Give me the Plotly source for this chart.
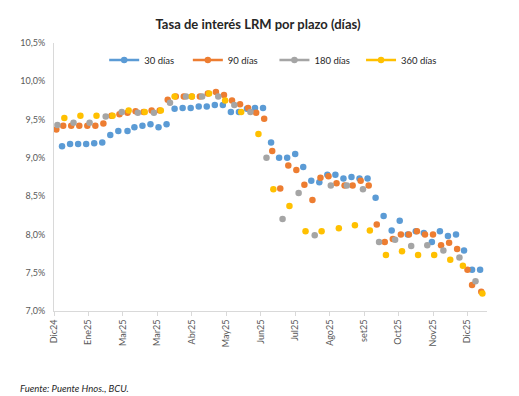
import plotly.graph_objects as go
import pandas as pd

# ---------------- data ----------------
title_text = "Tasa de interés LRM por plazo (días)"
source_text = "Fuente: Puente Hnos., BCU."
series_names = ["30 días", "90 días", "180 días", "360 días"]
series_colors = ["#5B9BD5", "#ED7D31", "#A5A5A5", "#FFC000"]

dates_30 = ["2025-01-07", "2025-01-14", "2025-01-21", "2025-01-28", "2025-02-04", "2025-02-11",
            "2025-02-18", "2025-02-25", "2025-03-05", "2025-03-11", "2025-03-18", "2025-03-25",
            "2025-04-01", "2025-04-08", "2025-04-15", "2025-04-22", "2025-04-29", "2025-05-06",
            "2025-05-13", "2025-05-20", "2025-05-27", "2025-06-03", "2025-06-10", "2025-06-17",
            "2025-06-24", "2025-07-01", "2025-07-08", "2025-07-15", "2025-07-22", "2025-07-29",
            "2025-08-05", "2025-08-12", "2025-08-19", "2025-08-26", "2025-09-02", "2025-09-09",
            "2025-09-16", "2025-09-23", "2025-09-30", "2025-10-07", "2025-10-14", "2025-10-21",
            "2025-10-28", "2025-11-04", "2025-11-11", "2025-11-18", "2025-11-25", "2025-12-02",
            "2025-12-09", "2025-12-16", "2025-12-23", "2025-12-30", "2026-01-06"]
rates_30 = [9.15, 9.18, 9.18, 9.18, 9.19, 9.20, 9.30, 9.35, 9.35, 9.40,
            9.42, 9.44, 9.40, 9.44, 9.64, 9.65, 9.65, 9.67, 9.67, 9.69,
            9.69, 9.60, 9.60, 9.64, 9.65, 9.65, 9.20, 9.00, 9.00, 9.05,
            8.88, 8.70, 8.68, 8.78, 8.78, 8.73, 8.75, 8.73, 8.73, 8.48,
            8.24, 8.05, 8.18, 8.00, 8.04, 8.02, 7.90, 8.04, 7.98, 8.00,
            7.79, 7.54, 7.54]

dates_90 = ["2025-01-02", "2025-01-08", "2025-01-15", "2025-01-22", "2025-01-29", "2025-02-05",
            "2025-02-12", "2025-02-19", "2025-02-26", "2025-03-05", "2025-03-12", "2025-03-19",
            "2025-03-26", "2025-04-02", "2025-04-09", "2025-04-16", "2025-04-23", "2025-04-30",
            "2025-05-07", "2025-05-14", "2025-05-21", "2025-05-28", "2025-06-04", "2025-06-11",
            "2025-06-18", "2025-06-25", "2025-07-02", "2025-07-09", "2025-07-16", "2025-07-23",
            "2025-07-30", "2025-08-06", "2025-08-13", "2025-08-20", "2025-08-27", "2025-09-03",
            "2025-09-10", "2025-09-17", "2025-09-24", "2025-10-01", "2025-10-08", "2025-10-15",
            "2025-10-22", "2025-10-29", "2025-11-05", "2025-11-12", "2025-11-19", "2025-11-26",
            "2025-12-03", "2025-12-10", "2025-12-17", "2025-12-26", "2025-12-30", "2026-01-07"]
rates_90 = [9.37, 9.42, 9.42, 9.42, 9.42, 9.42, 9.45, 9.55, 9.57, 9.59,
            9.61, 9.60, 9.62, 9.62, 9.76, 9.80, 9.80, 9.80, 9.80, 9.84,
            9.86, 9.82, 9.75, 9.70, 9.65, 9.59, 9.51, 9.09, 8.60, 8.90,
            8.84, 8.65, 8.45, 8.74, 8.76, 8.67, 8.64, 8.64, 8.70, 8.64,
            8.13, 7.90, 7.94, 8.00, 8.00, 8.04, 8.00, 8.00, 7.86, 7.89,
            7.81, 7.54, 7.34, 7.25]

dates_180 = ["2025-01-03", "2025-01-17", "2025-01-31", "2025-02-14", "2025-02-28", "2025-03-14",
             "2025-03-28", "2025-04-11", "2025-04-25", "2025-05-09", "2025-05-23", "2025-06-06",
             "2025-06-20", "2025-07-04", "2025-07-18", "2025-08-01", "2025-08-15", "2025-08-29",
             "2025-09-12", "2025-09-26", "2025-10-10", "2025-10-24", "2025-11-07", "2025-11-21",
             "2025-12-05", "2025-12-19", "2026-01-02"]
rates_180 = [9.43, 9.46, 9.46, 9.54, 9.60, 9.59, 9.59, 9.72, 9.80, 9.80,
             9.80, 9.69, 9.60, 9.00, 8.20, 8.54, 7.99, 8.64, 8.64, 8.59,
             7.90, 7.93, 7.85, 7.86, 7.79, 7.70, 7.39]

dates_360 = ["2025-01-09", "2025-01-23", "2025-02-06", "2025-02-20", "2025-03-06", "2025-03-20",
             "2025-04-03", "2025-04-15", "2025-04-30", "2025-05-15", "2025-05-29", "2025-06-12",
             "2025-06-27", "2025-07-10", "2025-07-24", "2025-08-07", "2025-08-21", "2025-09-05",
             "2025-09-19", "2025-10-02", "2025-10-16", "2025-10-30", "2025-11-13", "2025-11-27",
             "2025-12-11", "2025-12-22", "2026-01-08"]
rates_360 = [9.52, 9.55, 9.55, 9.55, 9.62, 9.60, 9.62, 9.80, 9.80, 9.84,
             9.75, 9.60, 9.31, 8.59, 8.37, 8.04, 8.04, 8.08, 8.12, 8.05,
             7.73, 7.78, 7.73, 7.73, 7.67, 7.59, 7.23]

tick_labels = ["Dic24", "Ene25", "Mar25", "Mar25", "Abr25", "May25", "Jun25",
               "Jul25", "Ago25", "set25", "Oct25", "Nov25", "Dic25"]

# ---------------- figure ----------------
FONT = "Lato, 'Open Sans', sans-serif"
all_dates = [dates_30, dates_90, dates_180, dates_360]
all_rates = [rates_30, rates_90, rates_180, rates_360]

W, H = 511, 388          # page adds an 8px body margin
PL, PT, PW, PH = 39, 35, 440, 267.7

fig = go.Figure()
for name, color, xs, ys in zip(series_names, series_colors, all_dates, all_rates):
    fig.add_trace(go.Scatter(
        x=xs, y=ys, mode="markers", name=name, showlegend=False,
        marker=dict(color=color, size=6.5, line=dict(width=0)),
        hovertemplate="%{x|%d/%m/%Y}: %{y:.2f}%<extra>" + name + "</extra>",
    ))

# legend entries (line + marker, as in the original legend), one legend box each
legend_ids = ["legend", "legend2", "legend3", "legend4"]
legend_left_fig = [90, 175, 263, 351]
legend_layout = {}
for name, color, lid, lx in zip(series_names, series_colors, legend_ids, legend_left_fig):
    fig.add_trace(go.Scatter(
        x=[None], y=[None], mode="lines+markers", name=name, legend=lid,
        line=dict(color=color, width=2.5),
        marker=dict(color=color, size=6.5),
    ))
    legend_layout[lid] = dict(
        orientation="h", x=(lx - PL) / PW, xanchor="left", y=0.937, yanchor="middle",
        bgcolor="rgba(0,0,0,0)", font=dict(family=FONT, size=9.5, color="#262626"),
        itemwidth=30,
    )

tickvals = pd.date_range("2024-12-31", periods=len(tick_labels), freq="30D")

fig.update_layout(
    width=W, height=H,
    margin=dict(l=PL, r=W - PL - PW, t=PT, b=H - PT - PH),
    paper_bgcolor="white", plot_bgcolor="white",
    separators=",.",
    font=dict(family=FONT, size=9, color="#595959"),
    title=dict(text="<b>" + title_text + "</b>", x=250 / W, xanchor="center",
               y=1 - 16 / H, yanchor="middle",
               font=dict(family=FONT, size=13, color="#262626")),
    showlegend=True,
    xaxis=dict(
        type="date", range=["2024-12-31", "2026-01-12"],
        tickmode="array", tickvals=tickvals, ticktext=tick_labels,
        tickangle=-90, ticks="outside", ticklen=4, tickcolor="#D9D9D9",
        showline=True, linecolor="#D9D9D9", linewidth=1,
        showgrid=False, zeroline=False,
        tickfont=dict(family=FONT, size=9, color="#595959"),
    ),
    yaxis=dict(
        range=[7.0, 10.5], dtick=0.5, tick0=7.0,
        tickformat=".1f", ticksuffix="%",
        showline=True, linecolor="#D9D9D9", linewidth=1,
        showgrid=False, zeroline=False, ticks="", ticklabelstandoff=6,
        tickfont=dict(family=FONT, size=9, color="#595959"),
    ),
    annotations=[dict(
        text="<i>" + source_text + "</i>", xref="paper", yref="paper",
        x=(2 - PL) / PW, y=-(380 - (PT + PH)) / PH, xanchor="left", yanchor="middle",
        showarrow=False, font=dict(family=FONT, size=9.5, color="#262626"),
    )],
    **legend_layout,
)

fig.write_html("out.html")
